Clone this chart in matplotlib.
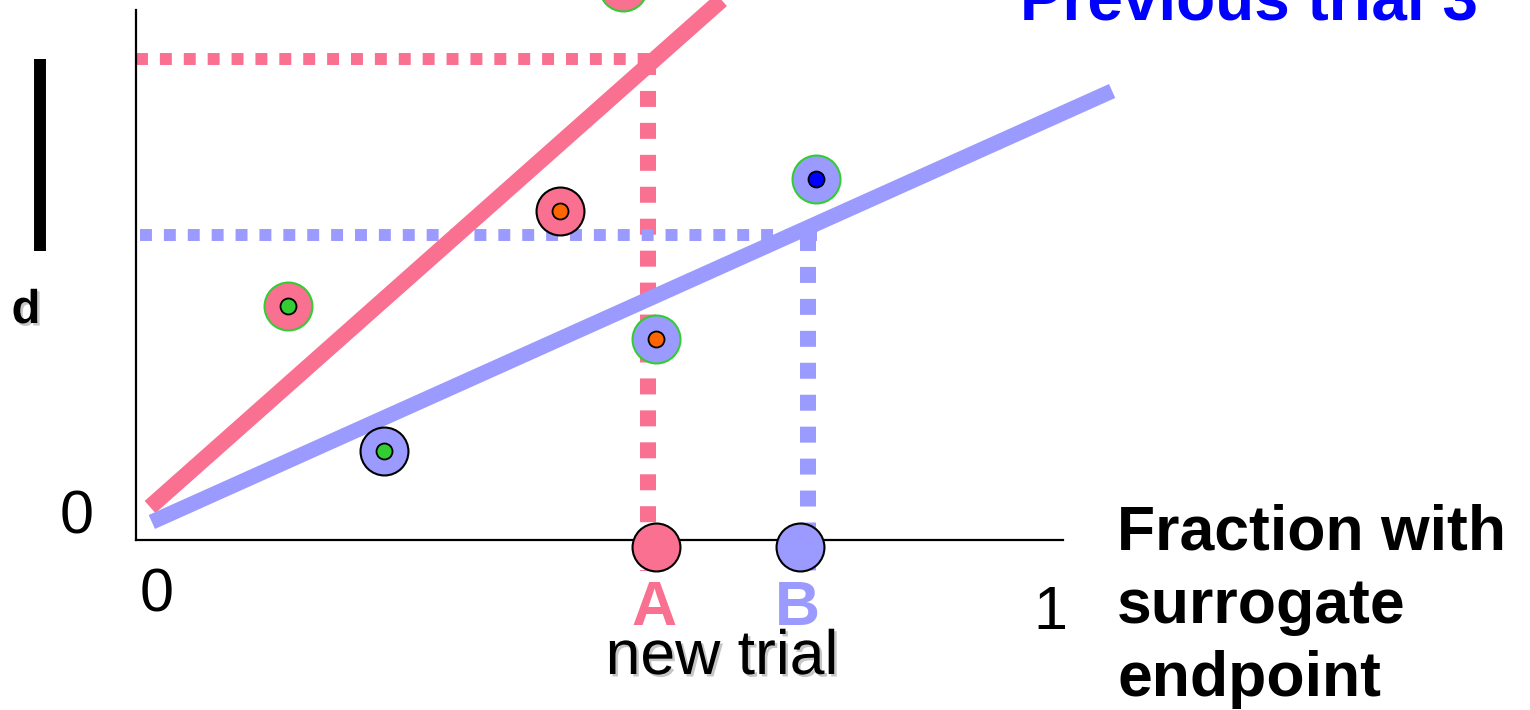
import matplotlib.pyplot as plt
import matplotlib.patheffects as pe

plt.rcParams['font.family'] = ['Liberation Sans', 'DejaVu Sans']

PINK = '#F97090'
LAV = '#9B9BFF'
GREEN = '#33CC33'

# fitted lines: fraction with surrogate endpoint vs effect
red_line_x = [0.0, 0.635]
red_line_y = [0.026, 1.04]
blue_line_x = [0.002, 1.069]
blue_line_y = [-0.004, 0.858]

# previous trials
trial_x = [0.153, 0.26, 0.456, 0.562, 0.740, 0.526]
trial_y = [0.428, 0.139, 0.619, 0.363, 0.683, 1.066]
trial_face = [PINK, LAV, PINK, LAV, LAV, PINK]
trial_edge = [GREEN, 'black', 'black', GREEN, GREEN, GREEN]
trial_inner = [GREEN, GREEN, '#FF6600', '#FF6600', '#0000FF', None]

# new trials A and B
new_labels = ['A', 'B']
new_colors = [PINK, LAV]
new_x = [0.562, 0.722]
proj_x = [0.553, 0.731]
pred_y = [0.922, 0.57]

W, H = 1530, 710
fig = plt.figure(figsize=(W / 100, H / 100), dpi=100)
ax = fig.add_axes([136 / W, 1 - 540 / H, (1063 - 136) / W, 530 / H])
ax.set_xlim(-0.0156, 1.0144)
ax.set_ylim(-0.04, 1.02)
ax.set_xticks([])
ax.set_yticks([])
for s in ['top', 'right']:
    ax.spines[s].set_visible(False)
for s in ['left', 'bottom']:
    ax.spines[s].set_linewidth(1.6)

x0 = ax.get_xlim()[0]
y_bot = -0.102
# dotted projections
for px, py, c in zip(proj_x, pred_y, new_colors):
    ax.plot([x0 + (0.004 if c == LAV else 0), px + 0.01], [py, py], color=c,
            lw=8.6, ls=(0, (1, 1)), dash_capstyle='butt', clip_on=False, zorder=2)
    ax.plot([px, px], [py, y_bot], color=c, lw=11.5, ls=(0, (1, 1)),
            dash_capstyle='butt', clip_on=False, zorder=2)

ax.plot(red_line_x, red_line_y, color=PINK, lw=11.7, solid_capstyle='butt',
        clip_on=False, zorder=3)
ax.plot(blue_line_x, blue_line_y, color=LAV, lw=11, solid_capstyle='butt',
        clip_on=False, zorder=3)

for x, y, fc, ec, ic in zip(trial_x, trial_y, trial_face, trial_edge, trial_inner):
    ax.plot(x, y, 'o', ms=34.5, mfc=fc, mec=ec, mew=1.5, clip_on=False, zorder=5)
    if ic:
        ax.plot(x, y, 'o', ms=11.5, mfc=ic, mec='black', mew=1.3,
                clip_on=False, zorder=6)

for x, c in zip(new_x, new_colors):
    ax.plot(x, -0.053, 'o', ms=34.5, mfc=c, mec='black', mew=1.5,
            clip_on=False, zorder=5)


def ftext(px, py, s, **kw):
    fig.text(px / W, 1 - py / H, s, **kw)


shadow = [pe.withSimplePatchShadow(offset=(1.8, -1.8), shadow_rgbFace='#A0A0A0', alpha=0.6)]

ftext(1478, 20, 'Previous trial 3', color='#0000FF', fontsize=46,
      fontweight='bold', ha='right', va='baseline')
# va='baseline' on multi-line text anchors the last line
ftext(1117, 696, 'Fraction with\nsurrogate\nendpoint', fontsize=45,
      fontweight='bold', ha='left', va='baseline', linespacing=1.31)
for lab, x, c in zip(new_labels, new_x, new_colors):
    ftext(150 + 900 * x - 2, 625, lab, color=c, fontsize=45, fontweight='bold',
          ha='center', va='baseline')
ftext(722, 674, 'new trial', fontsize=45, ha='center', va='baseline',
      path_effects=shadow)
ftext(26, 323, 'd', fontsize=34, fontweight='bold', ha='center', va='baseline',
      path_effects=shadow)
ftext(77, 534, '0', fontsize=44, ha='center', va='baseline')
ftext(157, 611, '0', fontsize=44, ha='center', va='baseline')
ftext(1050, 629, '1', fontsize=44, ha='center', va='baseline')

# black scale bar beside the y axis
fig.add_artist(plt.Line2D([40 / W, 40 / W], [1 - 59 / H, 1 - 251 / H],
                          color='black', lw=8.6, solid_capstyle='butt'))

fig.savefig('out.png', dpi=100)
